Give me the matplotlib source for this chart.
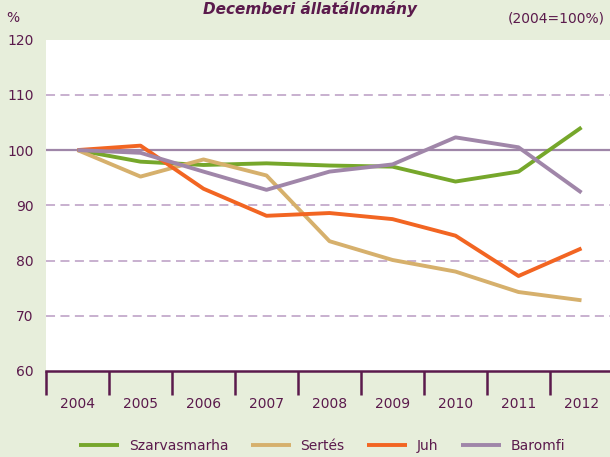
import numpy as np
import matplotlib.pyplot as plt
from matplotlib.ticker import FixedLocator

evek = ["2004", "2005", "2006", "2007", "2008", "2009", "2010", "2011", "2012"]
szarvasmarha = [100, 97.9, 97.3, 97.6, 97.2, 97.0, 94.3, 96.1, 104.1]
sertes = [100, 95.2, 98.3, 95.4, 83.5, 80.1, 78.0, 74.3, 72.8]
juh = [100, 100.8, 93.0, 88.1, 88.6, 87.5, 84.5, 77.2, 82.2]
baromfi = [100, 99.5, 96.1, 92.8, 96.1, 97.4, 102.3, 100.5, 92.3]
y_ertekek = [60, 70, 80, 90, 100, 110, 120]

plt.rcParams['font.family'] = ['DejaVu Sans']
szoveg = '#5b1a4c'
hatter = '#e7eedb'

fig = plt.figure(figsize=(6.1, 4.57), dpi=100, facecolor=hatter)
ax = fig.add_axes([46/610, 86/457, 567/610, 331.4/457])
ax.set_facecolor('white')

x = np.arange(len(evek))
ax.set_xlim(-0.5, 8.5)
ax.set_ylim(60, 120)

# racsvonalak
for v in [70, 80, 90, 110]:
    ax.axhline(v, color='#c4aacb', lw=1.3, ls=(0, (5, 3)), zorder=1)
ax.axhline(100, color='#9f86a8', lw=1.6, zorder=1)

vonalak = [("Szarvasmarha", szarvasmarha, '#76a72b'),
           ("Sertés", sertes, '#d6b06c'),
           ("Juh", juh, '#f26522'),
           ("Baromfi", baromfi, '#a086a9')]
for nev, adat, szin in vonalak:
    ax.plot(x, adat, color=szin, lw=2.8, label=nev, zorder=3, solid_capstyle='butt')

for s in ['left', 'right', 'top']:
    ax.spines[s].set_visible(False)
ax.spines['bottom'].set_color(szoveg)
ax.spines['bottom'].set_linewidth(1.8)

ax.set_xticks(x)
ax.set_xticklabels(evek, fontsize=10, color=szoveg)
ax.tick_params(axis='x', which='major', length=0, pad=19)
ax.xaxis.set_minor_locator(FixedLocator(np.arange(-0.5, 9, 1)))
ax.tick_params(axis='x', which='minor', length=17, width=1.8, color=szoveg)

ax.set_yticks(y_ertekek)
ax.set_yticklabels([str(v) for v in y_ertekek], fontsize=10, color=szoveg)
ax.tick_params(axis='y', length=0, pad=9)

fig.text(310/610, 1 - 9/457, "Decemberi állatállomány", ha='center', va='center',
         fontsize=11, fontweight='bold', fontstyle='italic', color=szoveg)
fig.text(605/610, 1 - 18/457, "(2004=100%)", ha='right', va='center', fontsize=10, color=szoveg)
fig.text(13/610, 1 - 18/457, "%", ha='center', va='center', fontsize=10, color=szoveg)

leg = fig.legend(loc='center', bbox_to_anchor=(322/610, 1 - 446/457), ncol=4, frameon=False,
                 fontsize=10, handlelength=2.9, columnspacing=1.6, handletextpad=0.7)
for t in leg.get_texts():
    t.set_color(szoveg)

fig.savefig("out.png", dpi=100, facecolor=hatter)
